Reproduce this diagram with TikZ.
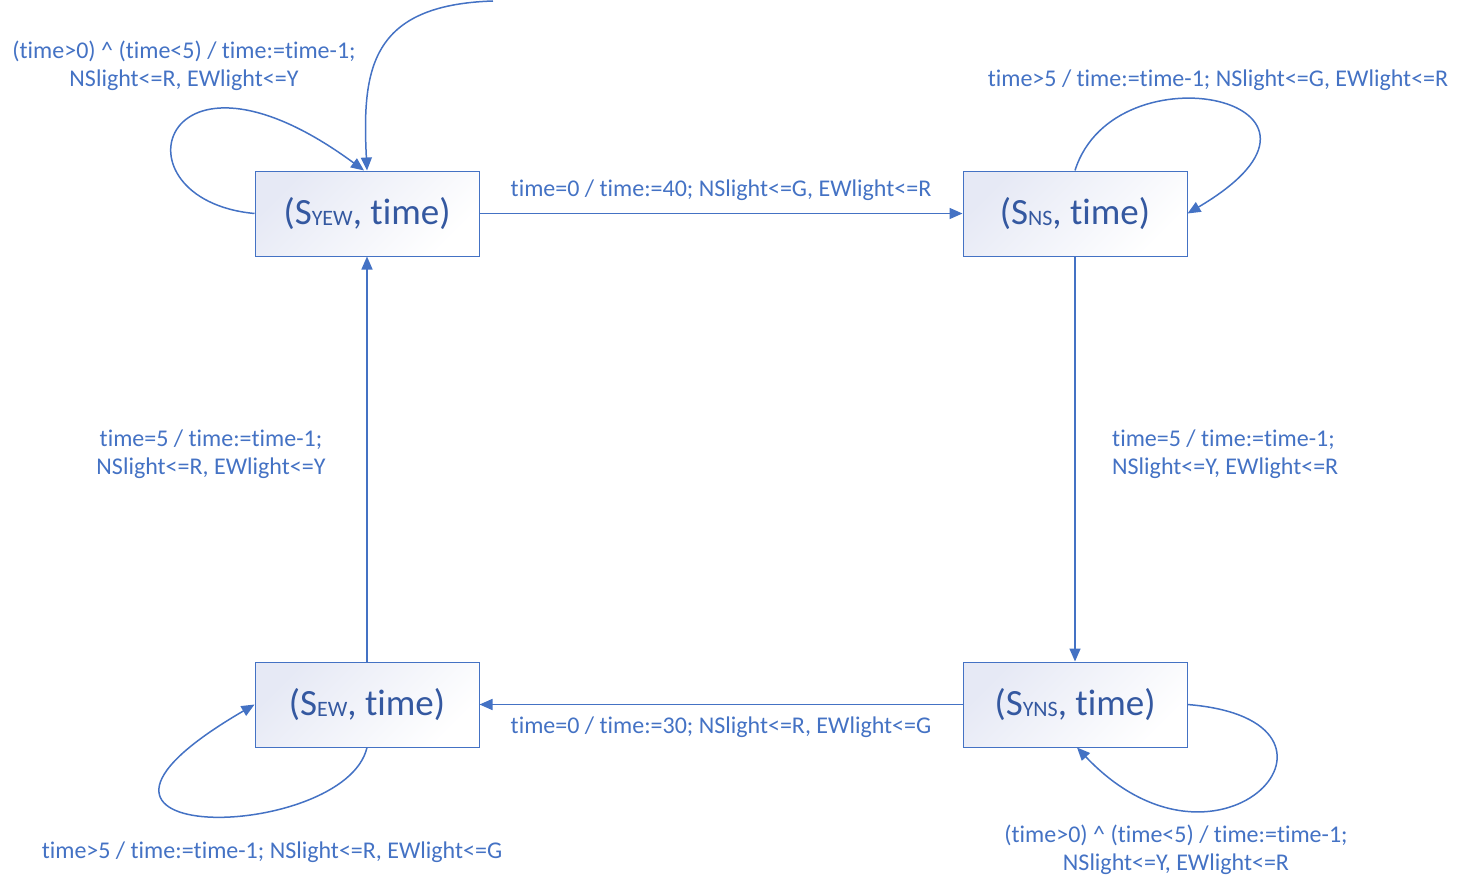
\documentclass[tikz,border=0pt]{standalone}
\usepackage{fontspec}
\setmainfont{Carlito}[Ligatures=CommonOff]
\usepackage{tikz}
\usetikzlibrary{arrows.meta, positioning}
\definecolor{LineBlue}{RGB}{68,114,196}
\definecolor{TextBlue}{RGB}{52,88,160}
\definecolor{TintBlue}{RGB}{230,233,245}
\newcommand{\stname}[1]{S\raisebox{-1.5pt}{\fontsize{22}{22}\selectfont #1}}
\tikzset{
	state/.style={draw=LineBlue, line width=1pt, left color=TintBlue, right color=white, shading angle=45,
		minimum width=224pt, minimum height=85pt, inner sep=0pt, text=TextBlue, font=\fontsize{37}{37}\selectfont},
	trans/.style={draw=LineBlue, line width=1.5pt, -{Triangle[length=13pt,width=11pt]}},
	lbl/.style={text=LineBlue, font=\fontsize{24}{28.5}\selectfont, inner sep=0pt, align=center},
}

\begin{document}
\begin{tikzpicture}[x=1pt, y=-1pt]
	\useasboundingbox (0,0) rectangle (1461,891);
	% states
	\node[state] (yew) at (367,213.5) {(\stname{YEW}, time)};
	\node[state] (ns)  at (1075,213.5) {(\stname{NS}, time)};
	\node[state] (ew)  at (367,704.5) {(\stname{EW}, time)};
	\node[state] (yns) at (1075,704.5) {(\stname{YNS}, time)};
	\coordinate (init) at (493,1);
	
	% transitions
	\draw[trans] (yew.east) -- (ns.west);
	\draw[trans] (ns.south) -- (yns.north);
	\draw[trans] (yns.west) -- (ew.east);
	\draw[trans] (ew.north) -- (yew.south);
	\draw[trans] (init) .. controls +(-123,4) and +(-5,-101) .. (yew.north);
	\draw[trans] (yew.west) .. controls +(-145,-13.5) and +(-205,-151) .. ([xshift=-3pt]yew.north);
	\draw[trans] (ns.north) .. controls +(40,-127) and +(190,-112) .. (ns.east);
	\draw[trans] (ew.south) .. controls +(-22,95) and +(-250,145.5) .. (ew.west);
	\draw[trans] (yns.east) .. controls +(193,15.5) and +(145,153) .. ([xshift=2pt]yns.south);
	
	% labels
	\node[lbl] (lyewns) at (721,190) {time=0 / time:=40; NSlight<=G, EWlight<=R};
	\node[lbl, anchor=west, align=left] (lnsyns) at (1112,454) {time=5 / time:=time-1;\\NSlight<=Y, EWlight<=R};
	\node[lbl] (lynsew) at (721,727) {time=0 / time:=30; NSlight<=R, EWlight<=G};
	\node[lbl] (lewyew) at (211,454) {time=5 / time:=time-1;\\NSlight<=R, EWlight<=Y};
	\node[lbl] (lyew) at (184,66) {(time>0) \^{} (time<5) / time:=time-1;\\NSlight<=R, EWlight<=Y};
	\node[lbl] (lns) at (1218,80) {time>5 / time:=time-1; NSlight<=G, EWlight<=R};
	\node[lbl] (lew) at (272,852) {time>5 / time:=time-1; NSlight<=R, EWlight<=G};
	\node[lbl] (lyns) at (1176,850) {(time>0) \^{} (time<5) / time:=time-1;\\NSlight<=Y, EWlight<=R};
\end{tikzpicture}
\end{document}
